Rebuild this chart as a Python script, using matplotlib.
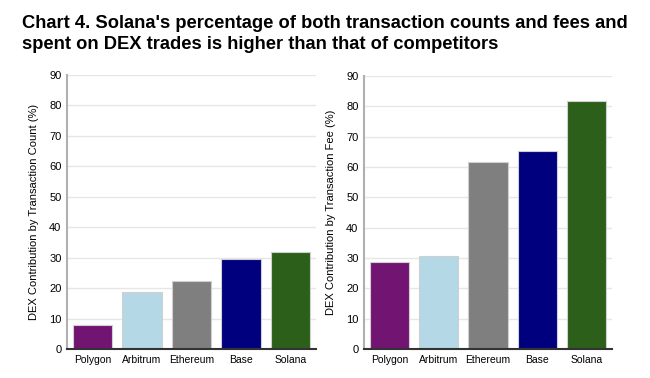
import matplotlib
matplotlib.use('Agg')
import matplotlib.pyplot as plt

plt.rcParams['font.family'] = ['Liberation Sans', 'DejaVu Sans']

chains = ['Polygon', 'Arbitrum', 'Ethereum', 'Base', 'Solana']
count_pct = [8.0, 18.7, 22.4, 29.4, 31.8]
fee_pct = [28.8, 30.7, 61.7, 65.4, 81.8]
colors = ['#721472', '#b4d8e6', '#7f7f7f', '#00007f', '#2c5f1a']
yticks = list(range(0, 100, 10))

fig = plt.figure(figsize=(6.5, 3.78), dpi=100)
fig.text(0.034, 0.96, "Chart 4. Solana's percentage of both transaction counts and fees and\nspent on DEX trades is higher than that of competitors",
         fontsize=13.2, fontweight='bold', va='top', ha='left', linespacing=1.3)

ax1 = fig.add_axes([67/650, 1 - 349/378, 249/650, 274/378])
ax2 = fig.add_axes([364/650, 1 - 349/378, 248/650, 273/378])

for ax, vals, lab in [(ax1, count_pct, 'DEX Contribution by Transaction Count (%)'),
                      (ax2, fee_pct, 'DEX Contribution by Transaction Fee (%)')]:
    ax.bar(range(len(chains)), vals, width=0.8, color=colors, edgecolor='#d0d0d0', linewidth=0.8, zorder=3)
    ax.set_xlim(-0.52, 4.52)
    ax.set_ylim(0, 90)
    ax.set_yticks(yticks)
    ax.set_xticks(range(len(chains)))
    ax.set_xticklabels(chains, fontsize=7.5)
    ax.tick_params(axis='y', labelsize=8, length=0, pad=4)
    ax.tick_params(axis='x', length=0, pad=4)
    ax.set_ylabel(lab, fontsize=8, labelpad=7)
    ax.grid(axis='y', color='#e6e6e6', linewidth=1, zorder=0)
    for s in ['top', 'right']:
        ax.spines[s].set_visible(False)
    ax.spines['left'].set_color('#b0b0b0')
    ax.spines['left'].set_linewidth(1.5)
    ax.spines['bottom'].set_color('#333333')
    ax.spines['bottom'].set_linewidth(1.5)
    ax.spines['bottom'].set_zorder(4)

fig.savefig('out.png', dpi=100)
